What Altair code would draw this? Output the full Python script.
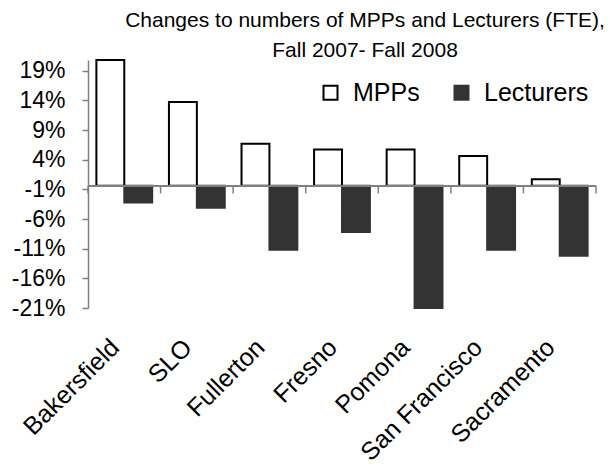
import altair as alt
import pandas as pd

campuses = ["Bakersfield", "SLO", "Fullerton", "Fresno", "Pomona", "San Francisco", "Sacramento"]
series = ["MPPs", "Lecturers"]
mpps = [21.2, 14.1, 7.1, 6.1, 6.1, 5.0, 1.1]
lecturers = [-2.8, -3.7, -10.8, -7.8, -20.6, -10.8, -11.8]
y_ticks = [-20.6, -15.6, -10.6, -5.6, -0.6, 4.4, 9.4, 14.4, 19.4]
y_domain = [-20.6, 21.2]
title_lines = ["Changes to numbers of MPPs and Lecturers (FTE),", "Fall 2007- Fall 2008"]

rows = []
for c, m, l in zip(campuses, mpps, lecturers):
    rows.append({"campus": c, "series": "MPPs", "value": m})
    rows.append({"campus": c, "series": "Lecturers", "value": l})
df = pd.DataFrame(rows)
df_cat = pd.DataFrame({"campus": campuses})
df_last = pd.DataFrame({"campus": campuses[-1:]})

W, H = 508, 248
FONT = "Liberation Sans"
GRAY = "#808080"
TICK_LEN = -1.3  # category tick length below the zero line, in axis units

x_scale = alt.Scale(type="band", domain=campuses, paddingInner=0, paddingOuter=0)
y_scale = alt.Scale(type="linear", domain=y_domain, nice=False, zero=False)

legend = alt.Legend(title=None, orient="none", legendX=230, legendY=20,
                    direction="horizontal", symbolType="square", symbolSize=196,
                    symbolStrokeWidth=2, labelFontSize=25, labelFont=FONT,
                    labelColor="black", columnPadding=29, labelOffset=10)

bars = alt.Chart(df).mark_bar(strokeWidth=2).encode(
    x=alt.X("campus:N", scale=x_scale, sort=campuses, title=None,
            axis=alt.Axis(orient="bottom", labelAngle=-45, labelAlign="right",
                          labelBaseline="middle", labelPadding=35, labelOffset=-9,
                          ticks=False, tickSize=0, domain=False, labelFontSize=25,
                          labelFont=FONT, labelColor="black")),
    xOffset=alt.XOffset("series:N", sort=series,
                        scale=alt.Scale(domain=series, paddingInner=0, paddingOuter=0.3)),
    y=alt.Y("value:Q", scale=y_scale, title=None,
            axis=alt.Axis(values=y_ticks, labelExpr="round(datum.value) + '%'",
                          grid=False, tickSize=6, labelPadding=17, labelOverlap=False,
                          domainColor=GRAY, tickColor=GRAY, domainWidth=1.5,
                          tickWidth=1.5, labelFontSize=23, labelFont=FONT,
                          labelColor="black")),
    fill=alt.Fill("series:N", sort=series,
                  scale=alt.Scale(domain=series, range=["white", "#333333"]),
                  legend=legend),
    stroke=alt.Stroke("series:N", sort=series,
                      scale=alt.Scale(domain=series, range=["black", "#333333"]),
                      legend=legend),
)

zero_line = alt.Chart(df_cat).mark_rule(color=GRAY, strokeWidth=1.5).encode(
    y=alt.YDatum(0, scale=y_scale, axis=None)
)

cat_ticks = alt.Chart(df_cat).mark_rule(color=GRAY, strokeWidth=1.5).encode(
    x=alt.X("campus:N", scale=x_scale, sort=campuses, bandPosition=0, axis=None),
    y=alt.YDatum(0, scale=y_scale, axis=None),
    y2=alt.datum(TICK_LEN),
)

end_tick = alt.Chart(df_last).mark_rule(color=GRAY, strokeWidth=1.5).encode(
    x=alt.X("campus:N", scale=x_scale, sort=campuses, bandPosition=1, axis=None),
    y=alt.YDatum(0, scale=y_scale, axis=None),
    y2=alt.datum(TICK_LEN),
)

tick_layer = alt.layer(zero_line, cat_ticks, end_tick)

chart = alt.layer(bars, tick_layer).resolve_scale(
    x="independent", y="independent"
).properties(
    width=W, height=H,
    title=alt.TitleParams(text=title_lines, fontSize=21, font=FONT,
                          fontWeight="normal", color="black", anchor="middle",
                          frame="group", dx=23, lineHeight=30, offset=-2),
    padding={"left": 80, "top": 52, "right": 10, "bottom": 158},
    autosize="none",
).configure_view(stroke=None).configure_axisY(labelOverlap=False)

chart.save("out.html", embed_options={"renderer": "svg", "actions": False})
